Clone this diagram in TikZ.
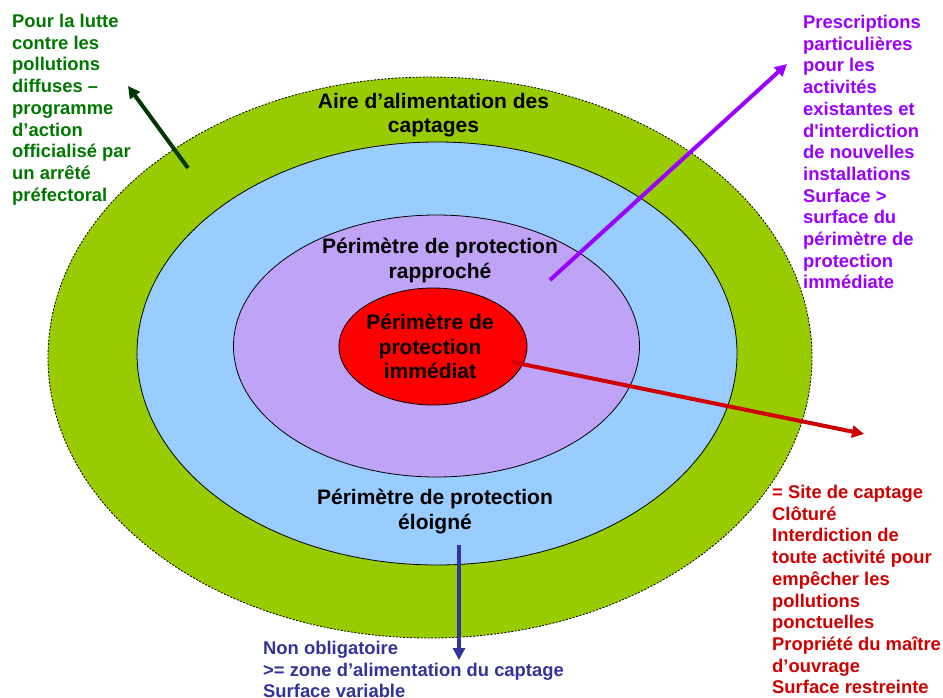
\documentclass[tikz,border=0pt]{standalone}
\usepackage{fontspec}
\newfontfamily\af{Liberation Sans}
\usetikzlibrary{shapes.geometric,arrows.meta}
\definecolor{aacgreen}{RGB}{153,204,0}
\definecolor{eloblue}{RGB}{153,204,255}
\definecolor{rappurple}{RGB}{191,163,247}
\definecolor{immred}{RGB}{255,0,0}
\definecolor{txtgreen}{RGB}{0,120,0}
\definecolor{arrgreen}{RGB}{0,55,0}
\definecolor{violet}{RGB}{153,0,255}
\definecolor{darkred}{RGB}{208,0,0}
\definecolor{navy}{RGB}{51,51,153}
\tikzset{
  zone/.style={ellipse, inner sep=0pt, outer sep=0pt, draw=black, line width=0.8pt},
  title/.style={font=\af\bfseries\fontsize{21}{24.5}\selectfont, align=center, inner sep=0pt, anchor=north, text=black},
  side/.style={font=\af\bfseries\fontsize{18.4}{21.7}\selectfont, align=left, inner sep=0pt, anchor=north west},
  arr/.style={line width=4pt, -{Triangle[length=12pt,width=12pt]}}
}
\begin{document}
\begin{tikzpicture}[x=1pt,y=-1pt]
\useasboundingbox (0,0) rectangle (943,697);
% zones
\node[zone, fill=aacgreen, dash pattern=on 2pt off 1.5pt, minimum width=764pt, minimum height=561pt] (aac) at (430,357.5) {};
\node[zone, fill=eloblue, minimum width=600pt, minimum height=423pt] (ppe) at (437,353.5) {};
\node[zone, fill=rappurple, minimum width=406pt, minimum height=262pt] (ppr) at (436.5,346) {};
\node[zone, fill=immred, minimum width=188pt, minimum height=117pt] (ppi) at (433,346.5) {};
% titles
\node[title] (taac) at (433.5,92.7) {Aire d’alimentation des\\captages};
\node[title] (tppr) at (440,238.3) {Périmètre de protection\\rapproché};
\node[title] (tppe) at (435,489.3) {Périmètre de protection\\éloigné};
\node[title] (tppi) at (430,314.3) {Périmètre de\\protection\\immédiat};
% side texts
\node[side, text=txtgreen] (sgreen) at (12,14) {Pour la lutte\\contre les\\pollutions\\diffuses –\\programme\\d’action\\officialisé par\\un arrêté\\préfectoral};
\node[side, text=violet] (sviolet) at (803,15) {Prescriptions\\particulières\\pour les\\activités\\existantes et\\d'interdiction\\de nouvelles\\installations\\Surface >\\surface du\\périmètre de\\protection\\immédiate};
\node[side, text=darkred] (sred) at (772,485) {= Site de captage\\Clôturé\\Interdiction de\\toute activité pour\\empêcher les\\pollutions\\ponctuelles\\Propriété du maître\\d’ouvrage\\Surface restreinte};
\node[side, text=navy] (snavy) at (263,641) {Non obligatoire\\>= zone d’alimentation du captage\\Surface variable};
% arrow ends
\coordinate (g0) at (188,168);
\coordinate (g1) at (128,86);
\coordinate (v0) at (550,280);
\coordinate (v1) at (787,64);
\coordinate (r0) at (512,362);
\coordinate (r1) at (864,434);
\coordinate (b0) at (459,545);
\coordinate (b1) at (459,660);
\draw[arr, arrgreen] (g0) -- (g1);
\draw[arr, violet] (v0) -- (v1);
\draw[arr, darkred] (r0) -- (r1);
\draw[arr, navy] (b0) -- (b1);
\end{tikzpicture}
\end{document}
